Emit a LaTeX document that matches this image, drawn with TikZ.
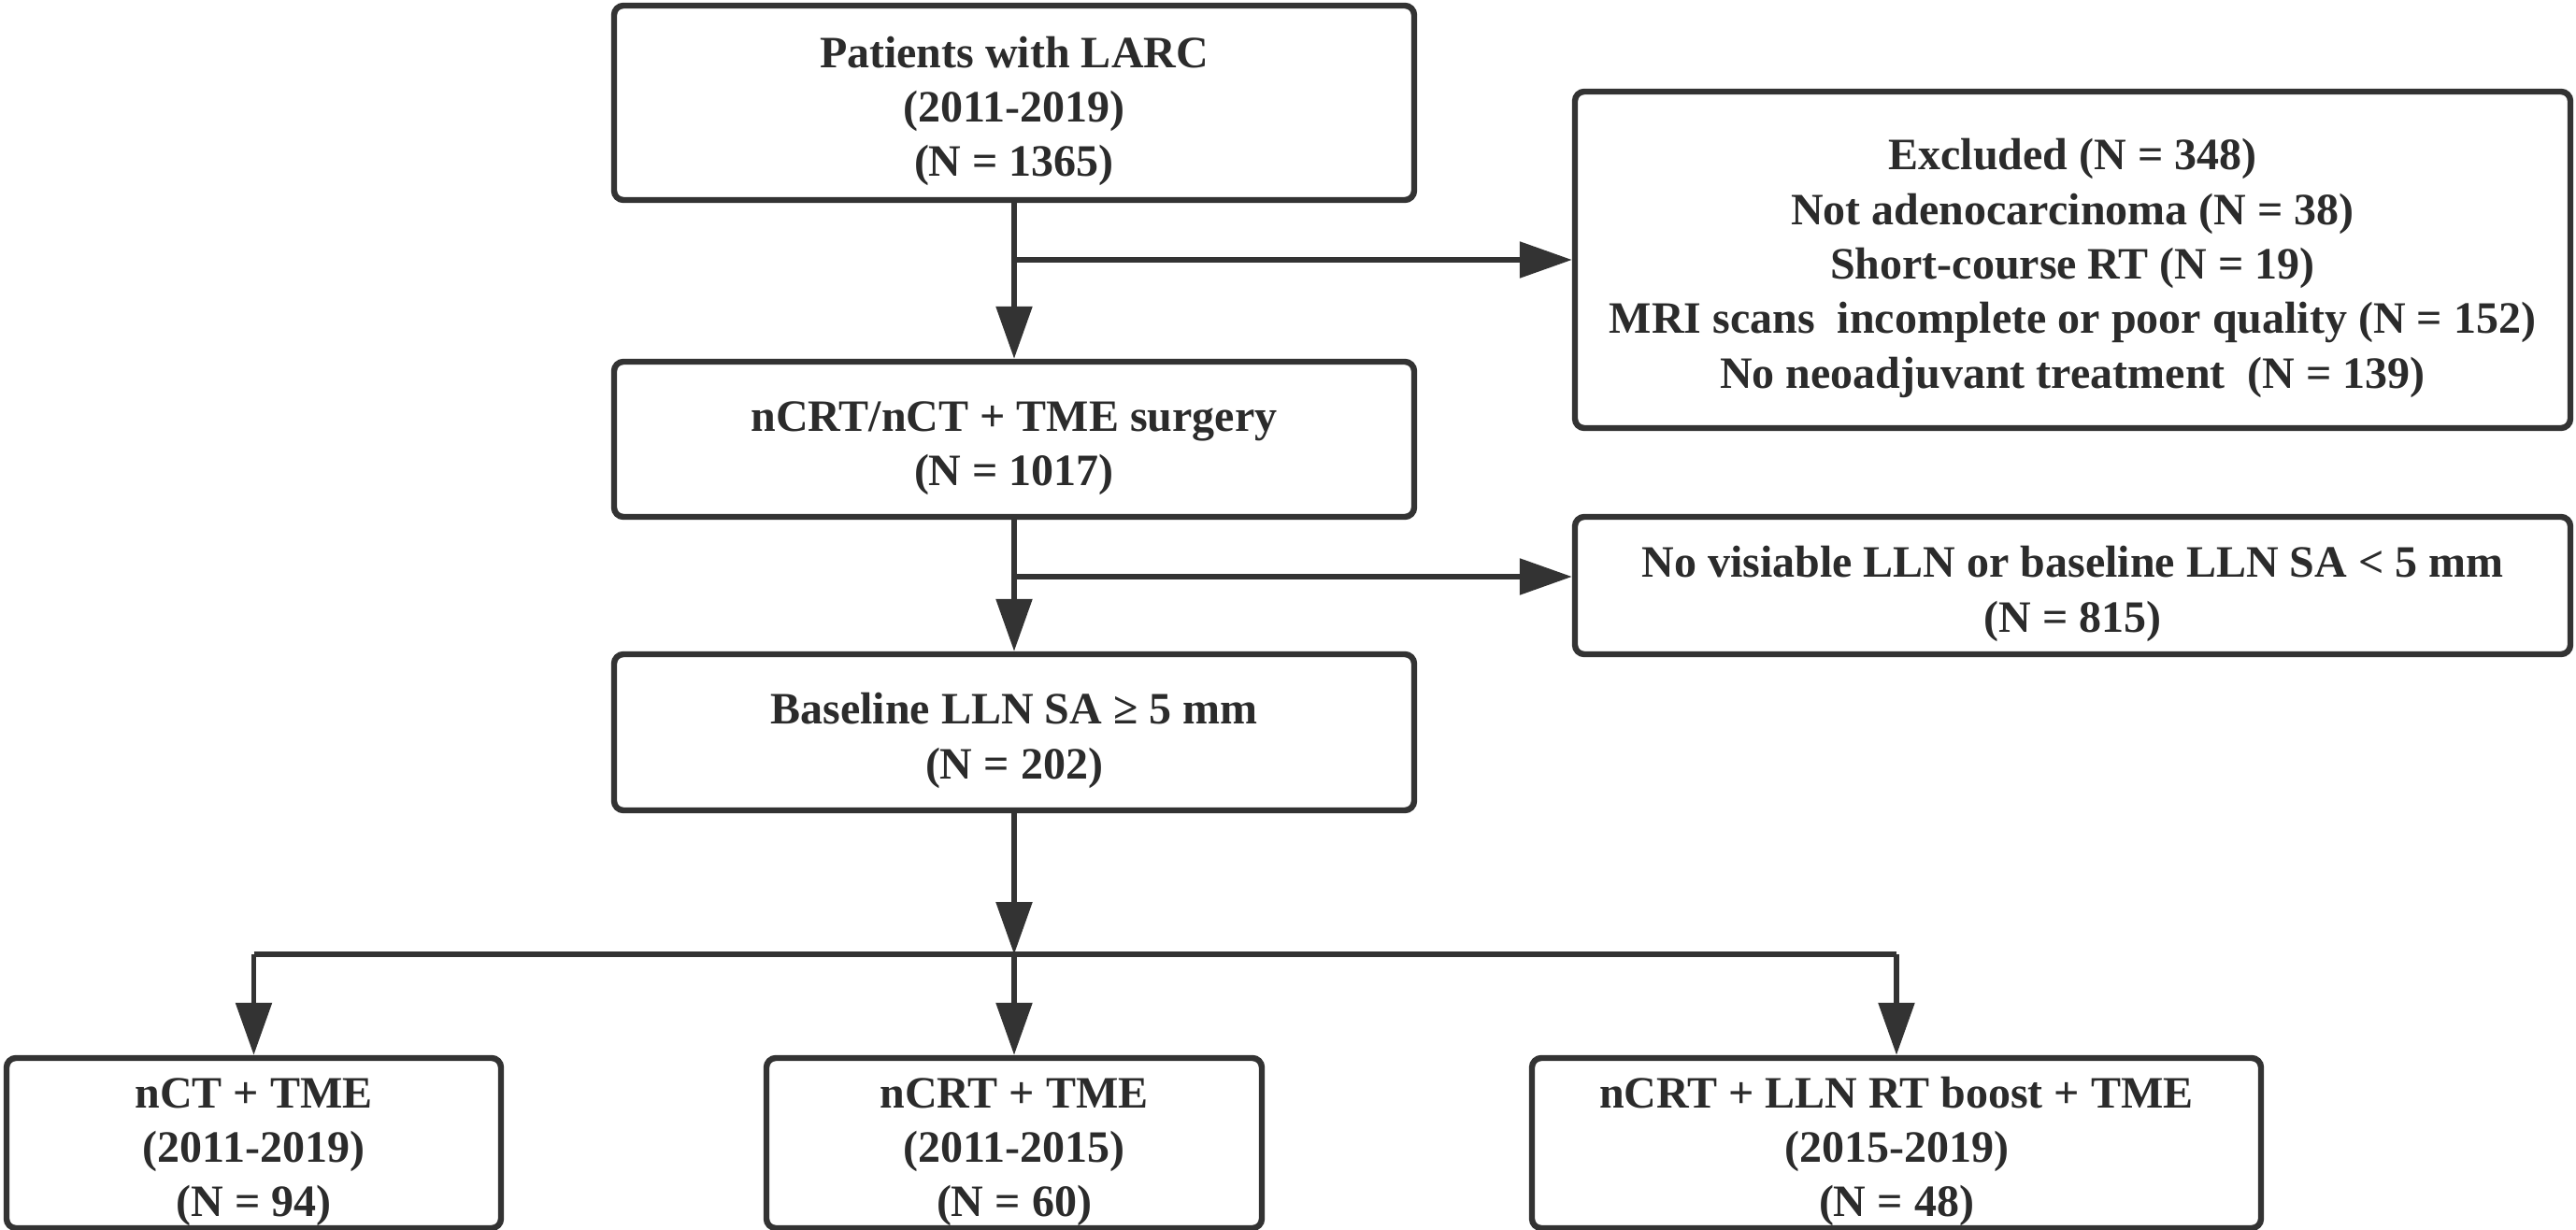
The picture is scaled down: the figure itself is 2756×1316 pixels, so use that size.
\documentclass[tikz,border=0pt]{standalone}
\usepackage{fontspec}
\setmainfont{Liberation Serif}
\usetikzlibrary{arrows.meta,calc}
\definecolor{ink}{HTML}{2B2B2B}
\definecolor{linec}{HTML}{333333}
\newcommand\tstrut{\rule{0pt}{12.8pt}}
\begin{document}
\begin{tikzpicture}[x=0.25pt,y=-0.25pt,
  boxstyle/.style={draw=linec, line width=1.6pt, rounded corners=2.5pt, fill=white,
    inner sep=0pt, align=center, text=ink,
    font=\fontsize{12}{14.6}\selectfont\bfseries},
  arrline/.style={draw=linec, line width=1.4pt, miter limit=10,
    -{Triangle[length=14pt,width=9.5pt]}},
  plainline/.style={draw=linec, line width=1.4pt}]
\useasboundingbox (0,0) rectangle (2756,1316);
\node[boxstyle, minimum width=214pt, minimum height=52pt] (box1) at (1085,110)
  {\tstrut Patients with LARC\\(2011-2019)\\(N = 1365)};
\node[boxstyle, minimum width=214pt, minimum height=41.5pt] (box2) at (1085,470)
  {\tstrut nCRT/nCT + TME surgery\\(N = 1017)};
\node[boxstyle, minimum width=214pt, minimum height=41.75pt] (box3) at (1085,783.5)
  {\tstrut Baseline LLN SA ≥ 5 mm\\(N = 202)};
\node[boxstyle, minimum width=266.25pt, minimum height=90pt] (excl) at (2217.5,278)
  {\tstrut Excluded (N = 348)\\Not adenocarcinoma (N = 38)\\Short-course RT (N = 19)\\MRI scans\ \ incomplete or poor quality (N = 152)\\No neoadjuvant treatment\ \ (N = 139)};
\node[boxstyle, minimum width=266.25pt, minimum height=36.75pt] (novis) at (2217.5,626.5)
  {\tstrut No visiable LLN or baseline LLN SA < 5 mm\\(N = 815)};
\node[boxstyle, minimum width=132.25pt, minimum height=45.5pt] (b1) at (271.5,1223)
  {\tstrut nCT + TME\\(2011-2019)\\(N = 94)};
\node[boxstyle, minimum width=132.5pt, minimum height=45.5pt] (b2) at (1085,1223)
  {\tstrut nCRT + TME\\(2011-2015)\\(N = 60)};
\node[boxstyle, minimum width=195pt, minimum height=45.5pt] (b3) at (2029,1223)
  {\tstrut nCRT + LLN RT boost + TME\\(2015-2019)\\(N = 48)};
% connectors
\draw[arrline] (box1.south) -- (box2.north);
\draw[arrline] (box1.south |- excl.west) -- (excl.west);
\coordinate (j2) at (1085,617);
\draw[arrline] (box2.south) -- (box3.north);
\draw[arrline] (j2) -- (j2 -| novis.west);
\coordinate (j3) at (1085,1021);
\draw[arrline] (box3.south) -- (j3);
\draw[plainline] (b1.north |- j3) -- (b3.north |- j3);
\draw[arrline] (b1.north |- j3) -- (b1.north);
\draw[arrline] (j3) -- (b2.north);
\draw[arrline] (b3.north |- j3) -- (b3.north);
\end{tikzpicture}
\end{document}
